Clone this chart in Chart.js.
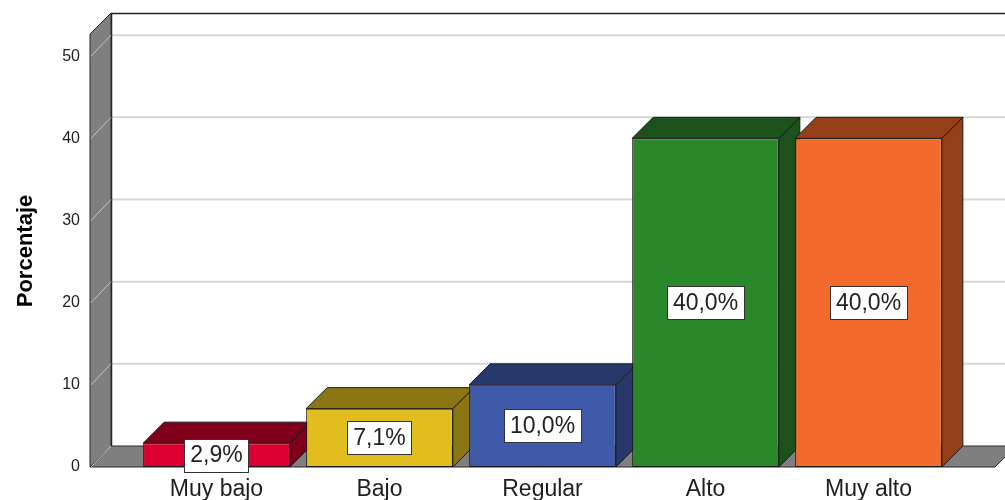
<!DOCTYPE html>
<html>
<head>
<meta charset="utf-8">
<script src="https://cdn.jsdelivr.net/npm/chart.js@4"></script>
<style>
  html, body { margin: 0; padding: 0; background: #fff; }
  #chart { display: block; }
</style>
</head>
<body>
<canvas id="chart" width="1005" height="500"></canvas>
<script>
// data
const categories = ['Muy bajo', 'Bajo', 'Regular', 'Alto', 'Muy alto'];
const percentages = [2.9, 7.1, 10.0, 40.0, 40.0];
const yTicks = [0, 10, 20, 30, 40, 50];

const frontColors = ['#dc0030', '#e1bd20', '#3e5aa9', '#2a882b', '#f26a2c'];
const sideColors = ['#80001c', '#8c7513', '#27386a', '#1b521b', '#964019'];

const DEPTH = 21;       // 3d offset
const SIDE_PAD = 45;    // floor extends beyond the category band
const FONT = '"Liberation Sans", Arial, sans-serif';

function poly(ctx, pts, fill, stroke) {
    ctx.beginPath();
    ctx.moveTo(pts[0][0], pts[0][1]);
    for (let i = 1; i < pts.length; i++) ctx.lineTo(pts[i][0], pts[i][1]);
    ctx.closePath();
    if (fill) { ctx.fillStyle = fill; ctx.fill(); }
    if (stroke) { ctx.strokeStyle = stroke; ctx.lineWidth = 1; ctx.stroke(); }
}

const frame3d = {
    id: 'frame3d',
    beforeDatasetsDraw(chart) {
        const ctx = chart.ctx;
        const y = chart.scales.y;
        const area = chart.chartArea;
        const left = area.left - SIDE_PAD;
        const right = area.right + SIDE_PAD;
        const bottom = y.getPixelForValue(0);
        const top = area.top;
        ctx.save();

        // back wall gridlines
        ctx.strokeStyle = '#d6d6d6';
        ctx.lineWidth = 2;
        yTicks.forEach(v => {
            if (v === 0) return;
            const py = y.getPixelForValue(v) - DEPTH;
            ctx.beginPath();
            ctx.moveTo(left + DEPTH, py);
            ctx.lineTo(chart.width, py);
            ctx.stroke();
        });

        // back wall edges
        ctx.strokeStyle = '#222';
        ctx.lineWidth = 1.5;
        ctx.beginPath();
        ctx.moveTo(chart.width, top - DEPTH + 0.5);
        ctx.lineTo(left + DEPTH + 0.5, top - DEPTH + 0.5);
        ctx.lineTo(left + DEPTH + 0.5, bottom - DEPTH);
        ctx.stroke();

        // floor
        poly(ctx, [[left, bottom], [left + DEPTH, bottom - DEPTH],
            [right + DEPTH, bottom - DEPTH], [right, bottom]], '#7f7f7f', '#2a2a2a');

        // left wall
        poly(ctx, [[left, top], [left + DEPTH, top - DEPTH],
            [left + DEPTH, bottom - DEPTH], [left, bottom]], '#7f7f7f', '#2a2a2a');

        // wall grid diagonals
        ctx.strokeStyle = '#c4c4c4';
        ctx.lineWidth = 1;
        yTicks.forEach(v => {
            const py = y.getPixelForValue(v);
            ctx.beginPath();
            ctx.moveTo(left + 1, py);
            ctx.lineTo(left + DEPTH, py - DEPTH);
            ctx.stroke();
        });

        // y tick labels
        ctx.fillStyle = '#222';
        ctx.font = '16px ' + FONT;
        ctx.textAlign = 'right';
        ctx.textBaseline = 'middle';
        yTicks.forEach(v => ctx.fillText(String(v), left - 10, y.getPixelForValue(v)));

        // y axis title
        ctx.save();
        ctx.translate(26, 251);
        ctx.rotate(-Math.PI / 2);
        ctx.font = 'bold 22px ' + FONT;
        ctx.textAlign = 'center';
        ctx.fillStyle = '#000';
        ctx.fillText('Porcentaje', 0, 0);
        ctx.restore();

        // side and top faces of bars, left to right
        const meta = chart.getDatasetMeta(0);
        meta.data.forEach((bar, i) => {
            const half = bar.width / 2;
            const x0 = bar.x - half, x1 = bar.x + half;
            const yt = bar.y, yb = bar.base;
            poly(ctx, [[x1, yb], [x1, yt], [x1 + DEPTH, yt - DEPTH], [x1 + DEPTH, yb - DEPTH]],
                sideColors[i], '#1a1a1a');
            poly(ctx, [[x0, yt], [x0 + DEPTH, yt - DEPTH], [x1 + DEPTH, yt - DEPTH], [x1, yt]],
                sideColors[i], '#1a1a1a');
        });

        // category labels
        ctx.fillStyle = '#1e1e1e';
        ctx.font = '23px ' + FONT;
        ctx.textAlign = 'center';
        ctx.textBaseline = 'alphabetic';
        meta.data.forEach((bar, i) => ctx.fillText(categories[i], bar.x, bottom + 29));
        ctx.restore();
    },
    afterDatasetsDraw(chart) {
        const ctx = chart.ctx;
        const meta = chart.getDatasetMeta(0);
        ctx.save();
        ctx.font = '23px ' + FONT;
        ctx.textAlign = 'center';
        ctx.textBaseline = 'middle';
        meta.data.forEach((bar, i) => {
            const txt = percentages[i].toFixed(1).replace('.', ',') + '%';
            const w = ctx.measureText(txt).width + 12;
            const h = 33;
            const cy = (bar.y + bar.base) / 2;
            ctx.fillStyle = '#fff';
            ctx.fillRect(Math.round(bar.x - w / 2) + 0.5, Math.round(cy - h / 2) + 0.5, Math.round(w), h);
            ctx.strokeStyle = '#333';
            ctx.lineWidth = 1;
            ctx.strokeRect(Math.round(bar.x - w / 2) + 0.5, Math.round(cy - h / 2) + 0.5, Math.round(w), h);
            ctx.fillStyle = '#222';
            ctx.fillText(txt, bar.x, cy + 1);
        });
        ctx.restore();
    }
};

new Chart(document.getElementById('chart'), {
    type: 'bar',
    data: {
        labels: categories,
        datasets: [{
            data: percentages,
            backgroundColor: frontColors,
            borderColor: '#1a1a1a',
            borderWidth: 1,
            borderSkipped: false,
            categoryPercentage: 1,
            barPercentage: 0.9
        }]
    },
    options: {
        responsive: false,
        animation: false,
        layout: { padding: { left: 135, right: 55, top: 34, bottom: 33 } },
        plugins: { legend: { display: false }, tooltip: { enabled: false } },
        scales: {
            x: { display: false },
            y: { display: false, min: 0, max: 52.7 }
        }
    },
    plugins: [frame3d]
});
</script>
</body>
</html>
